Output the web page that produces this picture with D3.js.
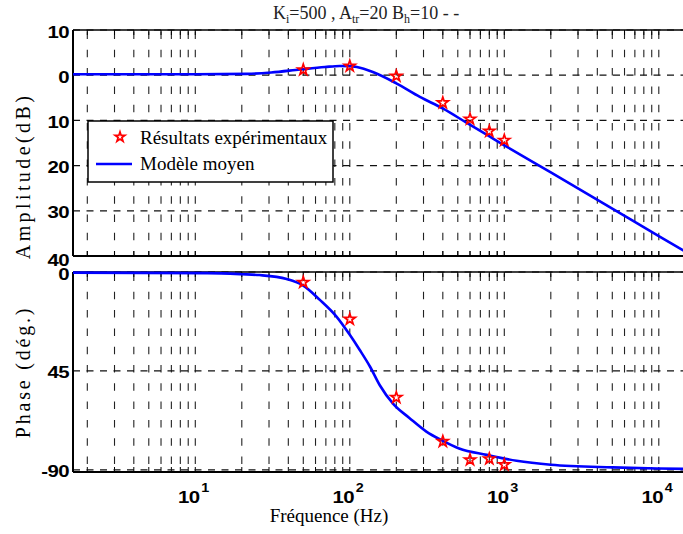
<!DOCTYPE html>
<html>
<head>
<meta charset="utf-8">
<script src="https://cdn.jsdelivr.net/npm/d3@7"></script>
<style>
html,body{margin:0;padding:0;background:#fff;overflow:hidden;}
svg{display:block;}
</style>
</head>
<body>
<svg id="chart" width="683" height="534"></svg>
<script>
// ---------- data ----------
const xDomain = [1.616, 15920];
const ampYDomain = [-40, 10];
const phaseYDomain = [-91, 0];

const ampTickValues = [10, 0, -10, -20, -30, -40];
const ampTickLabels = ["10", "0", "10", "20", "30", "40"];
const phaseTickValues = [0, -45, -90];
const phaseTickLabels = ["0", "45", "-90"];
const xTickExponents = [1, 2, 3, 4];

// Modèle moyen – amplitude (dB)
const ampFreq = [1.616, 10, 21.6, 31, 47.6, 69, 86, 100, 111, 141, 200, 284, 402, 569, 807, 1000, 2000, 5000, 10000, 15920];
const ampDb   = [0.2, 0.2, 0.3, 0.6, 1.26, 1.8, 2.05, 2.0, 1.8, 0.7, -1.8, -4.8, -7.4, -10.5, -13.6, -15.5, -21.5, -29.5, -35.6, -39.6];

// Modèle moyen – phase (deg)
const phaseFreq = [1.616, 12, 20, 26, 39, 50, 64, 82, 100, 116, 135, 156, 191, 244, 313, 400, 510, 770, 1200, 2000, 5000, 10000, 15920];
const phaseDeg  = [-0.3, -0.5, -1.0, -1.4, -3.2, -6.2, -12.7, -20.3, -28.6, -35.5, -43, -51.4, -60, -66.5, -72.6, -76.8, -80.3, -83.2, -85.9, -87.7, -88.9, -89.4, -89.6];

// Résultats expérimentaux
const expFreq  = [50, 100, 200, 400, 600, 800, 1000];
const expAmp   = [1.2, 2.0, -0.2, -6.1, -9.7, -12.4, -14.4];
const expPhase = [-4.7, -21.5, -57.1, -77.1, -85.5, -85.0, -87.7];

// ---------- layout ----------
const left = 73, right = 690;
const topPanel = {y0: 30, y1: 256};
const botPanel = {y0: 272, y1: 472};

const svg = d3.select("#chart");
const x = d3.scaleLog().domain(xDomain).range([left, right]);
const yA = d3.scaleLinear().domain(ampYDomain).range([topPanel.y1, topPanel.y0]);
const yP = d3.scaleLinear().domain(phaseYDomain).range([botPanel.y1, botPanel.y0]);

const defs = svg.append("defs");
defs.append("clipPath").attr("id","clipA").append("rect")
  .attr("x", left).attr("y", topPanel.y0-2).attr("width", right-left).attr("height", topPanel.y1-topPanel.y0+4);
defs.append("clipPath").attr("id","clipP").append("rect")
  .attr("x", left).attr("y", botPanel.y0-2).attr("width", right-left).attr("height", botPanel.y1-botPanel.y0+4);

// minor positions
const gridX = [];
for (let d = 0; d <= 4; d++) for (let m = 1; m <= 9; m++) {
  const v = m * Math.pow(10, d);
  if (v >= xDomain[0] && v <= xDomain[1]) gridX.push(v);
}

function drawPanel(y, panel, hTicks) {
  const g = svg.append("g");
  g.selectAll("line.vg").data(gridX).enter().append("line")
    .attr("x1", d => x(d)).attr("x2", d => x(d))
    .attr("y1", panel.y0 + 1.5).attr("y2", panel.y1)
    .attr("stroke", "#222").attr("stroke-width", 1.1)
    .attr("stroke-dasharray", "7.5,10.8");
  g.selectAll("line.tb").data(gridX).enter().append("line")
    .attr("x1", d => x(d)).attr("x2", d => x(d))
    .attr("y1", panel.y1 - 5).attr("y2", panel.y1)
    .attr("stroke", "#000").attr("stroke-width", 1);
  g.selectAll("line.tt").data(gridX).enter().append("line")
    .attr("x1", d => x(d)).attr("x2", d => x(d))
    .attr("y1", panel.y0).attr("y2", panel.y0 + 5)
    .attr("stroke", "#000").attr("stroke-width", 1);
  g.selectAll("line.hg").data(hTicks).enter().append("line")
    .attr("x1", left).attr("x2", right)
    .attr("y1", d => y(d)).attr("y2", d => y(d))
    .attr("stroke", "#111").attr("stroke-width", 1.2)
    .attr("stroke-dasharray", "7,6.5");
  g.append("line").attr("x1", left).attr("x2", right).attr("y1", panel.y0).attr("y2", panel.y0)
    .attr("stroke", "#000").attr("stroke-width", 1.5);
  g.append("line").attr("x1", left).attr("x2", right).attr("y1", panel.y1).attr("y2", panel.y1)
    .attr("stroke", "#000").attr("stroke-width", 2);
  g.append("line").attr("x1", left).attr("x2", left).attr("y1", panel.y0).attr("y2", panel.y1)
    .attr("stroke", "#000").attr("stroke-width", 2);
}

drawPanel(yA, topPanel, ampTickValues);
drawPanel(yP, botPanel, phaseTickValues);

// y tick labels (bold, wide)
function yLabels(y, vals, labels, panel) {
  vals.forEach((v, i) => {
    let by = y(v) + 7.5;
    if (panel === topPanel && y(v) >= panel.y1 - 0.5) by += 2.5;
    if (panel === botPanel && y(v) <= panel.y0 + 0.5) by += 0.5;
    svg.append("text")
      .attr("transform", `translate(69,${by}) scale(1.2,1)`)
      .attr("text-anchor", "end")
      .attr("font-family", "'Liberation Sans', Arial, sans-serif")
      .attr("font-weight", "bold")
      .attr("font-size", 17)
      .attr("letter-spacing", -0.5)
      .text(labels[i]);
  });
}
yLabels(yA, ampTickValues, ampTickLabels, topPanel);
yLabels(yP, phaseTickValues, phaseTickLabels, botPanel);

// x tick labels 10^n
xTickExponents.forEach(e => {
  const px = x(Math.pow(10, e));
  const t = svg.append("text")
    .attr("transform", `translate(${px - 2},503) scale(1.2,1)`)
    .attr("text-anchor", "middle")
    .attr("font-family", "'Liberation Sans', Arial, sans-serif")
    .attr("font-weight", "bold")
    .attr("font-size", 17)
    .attr("letter-spacing", -0.5);
  t.append("tspan").text("10");
  t.append("tspan").attr("font-size", 12).attr("dy", -11).attr("dx", 1.5).text(String(e));
});

// curves
const lineA = d3.line().x(d => x(d[0])).y(d => yA(d[1])).curve(d3.curveMonotoneX);
const lineP = d3.line().x(d => x(d[0])).y(d => yP(d[1])).curve(d3.curveMonotoneX);
svg.append("path").attr("clip-path", "url(#clipA)")
  .attr("d", lineA(d3.zip(ampFreq, ampDb)))
  .attr("fill", "none").attr("stroke", "#0000ff").attr("stroke-width", 2.6);
svg.append("path").attr("clip-path", "url(#clipP)")
  .attr("d", lineP(d3.zip(phaseFreq, phaseDeg)))
  .attr("fill", "none").attr("stroke", "#0000ff").attr("stroke-width", 2.6);

// stars (hollow)
const star = d3.symbol().type(d3.symbolStar).size(38);
svg.selectAll("path.sa").data(d3.zip(expFreq, expAmp)).enter().append("path")
  .attr("d", star).attr("transform", d => `translate(${x(d[0])},${yA(d[1])})`)
  .attr("fill", "none").attr("stroke", "#ff0000").attr("stroke-width", 1.7)
  .attr("stroke-linejoin", "miter");
svg.selectAll("path.sp").data(d3.zip(expFreq, expPhase)).enter().append("path")
  .attr("d", star).attr("transform", d => `translate(${x(d[0])},${yP(d[1])})`)
  .attr("fill", "none").attr("stroke", "#ff0000").attr("stroke-width", 1.7)
  .attr("stroke-linejoin", "miter");

// legend
const lg = svg.append("g");
lg.append("rect").attr("x", 88).attr("y", 121).attr("width", 245).attr("height", 61)
  .attr("fill", "#fff").attr("stroke", "#000").attr("stroke-width", 1.5);
lg.append("path").attr("d", d3.symbol().type(d3.symbolStar).size(30)).attr("transform", "translate(120,137)")
  .attr("fill", "none").attr("stroke", "#ff0000").attr("stroke-width", 1.7);
lg.append("line").attr("x1", 96).attr("x2", 132).attr("y1", 164).attr("y2", 164)
  .attr("stroke", "#0000ff").attr("stroke-width", 2.6);
lg.append("text").attr("x", 140).attr("y", 144)
  .attr("font-family", "'Liberation Serif', 'Times New Roman', serif").attr("font-size", 19)
  .text("Résultats expérimentaux");
lg.append("text").attr("x", 140).attr("y", 170)
  .attr("font-family", "'Liberation Serif', 'Times New Roman', serif").attr("font-size", 19)
  .text("Modèle moyen");

// axis titles
svg.append("text")
  .attr("transform", "translate(30,176) rotate(-90)")
  .attr("text-anchor", "middle")
  .attr("font-family", "'Liberation Serif', 'Times New Roman', serif").attr("font-size", 20)
  .attr("letter-spacing", 3.4)
  .text("Amplitude(dB)");
svg.append("text")
  .attr("transform", "translate(30,372) rotate(-90)")
  .attr("text-anchor", "middle")
  .attr("font-family", "'Liberation Serif', 'Times New Roman', serif").attr("font-size", 20)
  .attr("letter-spacing", 2.8)
  .text("Phase (dég.)");
svg.append("text")
  .attr("x", 329).attr("y", 522)
  .attr("text-anchor", "middle")
  .attr("font-family", "'Liberation Serif', 'Times New Roman', serif").attr("font-size", 19)
  .text("Fréquence (Hz)");

// title
const tt = svg.append("text").attr("x", 273).attr("y", 19)
  .attr("font-family", "'Liberation Serif', 'Times New Roman', serif").attr("font-size", 18)
  .attr("fill", "#222");
tt.append("tspan").text("K");
tt.append("tspan").attr("font-size", 12).attr("dy", 4).text("i");
tt.append("tspan").attr("dy", -4).text("=500 , A");
tt.append("tspan").attr("font-size", 12).attr("dy", 4).text("tr");
tt.append("tspan").attr("dy", -4).text("=20  B");
tt.append("tspan").attr("font-size", 12).attr("dy", 4).text("h");
tt.append("tspan").attr("dy", -4).text("=10 - -");
</script>
</body>
</html>
